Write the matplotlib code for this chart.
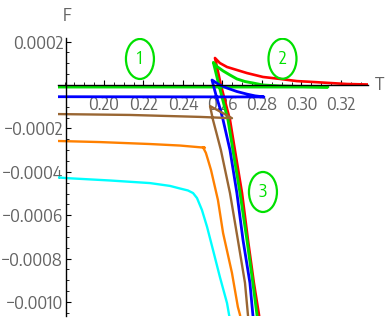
import matplotlib
matplotlib.use('Agg')
import matplotlib.pyplot as plt
from matplotlib import font_manager as fm
from matplotlib.textpath import TextPath
from matplotlib.patches import Ellipse
from matplotlib.ticker import FixedLocator, FixedFormatter, MultipleLocator

# ---- data (T, F) ----
red_T = [0.3400, 0.3337, 0.3230, 0.3144, 0.3058, 0.2977, 0.2891, 0.2805,
         0.2724, 0.2623, 0.2587, 0.2562, 0.2592, 0.2618, 0.2638, 0.2663, 0.2699, 0.2729,
         0.2759, 0.2785, 0.2800]
red_F = [0.000002, 0.0000023, 0.0000046, 0.0000092, 0.000014, 0.000018,
         0.000028, 0.000037, 0.000055, 0.000083, 0.000101, 0.0001244, 0.0, -0.000092,
         -0.000161, -0.000300, -0.000498, -0.000714, -0.000912, -0.00106, -0.001175]

green_T = [0.1767, 0.3134, 0.2992, 0.2891, 0.2805, 0.2754, 0.2714, 0.2673, 0.2638, 0.2603,
           0.2572, 0.2554, 0.2582, 0.2608, 0.2628, 0.2653, 0.2689, 0.2724, 0.2754, 0.2775,
           0.2790]
green_F = [-0.0000092, -0.0000092, -0.0000069, -0.0000046, 0.0, 0.0000092, 0.000016, 0.000028,
           0.000046, 0.000065, 0.000085, 0.000104, 0.0, -0.000092, -0.000161, -0.000300,
           -0.000498, -0.000714, -0.000912, -0.00106, -0.001175]

blue_T = [0.1767, 0.2810, 0.2765, 0.2724, 0.2673, 0.2623, 0.2582, 0.2547, 0.2567, 0.2587,
          0.2603, 0.2638, 0.2673, 0.2704, 0.2739, 0.2754, 0.2770]
blue_F = [-0.000054, -0.000055, -0.000050, -0.000042, -0.000030, -0.000014, 0.000002, 0.000023,
          -0.000046, -0.000106, -0.000161, -0.000300, -0.000498, -0.000714, -0.000912,
          -0.00106, -0.001175]

brown_T = [0.1767, 0.2132, 0.2486, 0.2648, 0.2597, 0.2537, 0.2552, 0.2572, 0.2592, 0.2638,
           0.2678, 0.2714, 0.2729, 0.2744]
brown_F = [-0.000134, -0.000138, -0.000147, -0.000153, -0.000127, -0.000097, -0.000161,
           -0.000230, -0.000300, -0.000498, -0.000714, -0.000912, -0.00106, -0.001175]

orange_T = [0.1767, 0.1980, 0.2233, 0.2385, 0.2511, 0.2501, 0.2516, 0.2527, 0.2542, 0.2577,
            0.2603, 0.2648, 0.2678, 0.2689, 0.2699]
orange_F = [-0.000258, -0.000263, -0.000272, -0.000279, -0.000289, -0.000286, -0.000313,
            -0.000346, -0.000392, -0.000530, -0.000682, -0.000866, -0.001023, -0.00106,
            -0.001152]

cyan_T = [0.1767, 0.1808, 0.2030, 0.2233, 0.2334, 0.2385, 0.2425, 0.2451, 0.2471, 0.2496,
          0.2522, 0.2552, 0.2587, 0.2623, 0.2638]
cyan_F = [-0.000426, -0.000429, -0.000440, -0.000452, -0.000465, -0.000477, -0.000486,
          -0.000498, -0.000521, -0.000576, -0.000654, -0.000760, -0.000885, -0.001005,
          -0.001083]

x_ticks = [0.20, 0.22, 0.24, 0.26, 0.28, 0.30, 0.32]
x_tick_labels = ['0.20', '0.22', '0.24', '0.26', '0.28', '0.30', '0.32']
y_ticks = [0.0002, -0.0002, -0.0004, -0.0006, -0.0008, -0.0010]
y_tick_labels = ['0.0002', '\u22120.0002', '\u22120.0004', '\u22120.0006', '\u22120.0008', '\u22120.0010']

region_labels = ['1', '2', '3']
region_T = [0.2182, 0.2904, 0.2805]
region_F = [0.000120, 0.000121, -0.000493]

# ---- font: pick the installed narrow sans whose digit shape is closest to the picture ----
available = set(f.name for f in fm.fontManager.ttflist)
prefs = ['Liberation Sans Narrow', 'Arial Narrow', 'Roboto Condensed', 'PT Sans Narrow',
         'Archivo Narrow', 'Fira Sans Condensed', 'IBM Plex Sans Condensed',
         'Barlow Semi Condensed', 'Asap Condensed', 'Encode Sans Condensed',
         'Open Sans Condensed', 'Liberation Sans']
TARGET_RATIO = 0.285      # digit height / width of "0.0002" in the picture
best, best_err, best_w = 'DejaVu Sans', 1e9, None
for name in prefs:
    if name not in available:
        continue
    try:
        prop = fm.FontProperties(family=name, weight='normal', style='normal')
        ext = TextPath((0, 0), '0.0002', size=100, prop=prop).get_extents()
        ratio = ext.height / ext.width
    except Exception:
        continue
    err = abs(ratio - TARGET_RATIO)
    if err < best_err:
        best, best_err, best_w = name, err, ext.width
plt.rcParams['font.family'] = [best, 'DejaVu Sans']
if best_w is None:
    best_w = TextPath((0, 0), '0.0002', size=100,
                      prop=fm.FontProperties(family='DejaVu Sans')).get_extents().width
FS = 54.0 * 72.0 / best_w     # ink width of "0.0002" = 54 px at 100 dpi

W, H = 388, 319
GREY = '#646464'
GREEN = '#00e000'

fig = plt.figure(figsize=(3.88, 3.19), dpi=100)
ax = fig.add_axes([58 / W, 3 / H, 310 / W, 278 / H])
ax.set_xlim(0.1767, 0.3337)
ax.set_ylim(-0.0010645, 0.0002166)

lw = 1.7
ax.plot(red_T, red_F, color='#ff0000', lw=lw + 0.2, solid_joinstyle='round')
ax.plot(green_T, green_F, color=GREEN, lw=lw + 0.4, solid_joinstyle='round')
ax.plot(blue_T, blue_F, color='#0000ff', lw=lw + 0.3, solid_joinstyle='round')
ax.plot(brown_T, brown_F, color='#996633', lw=lw, solid_joinstyle='round')
ax.plot(orange_T, orange_F, color='#ff8000', lw=lw, solid_joinstyle='round')
ax.plot(cyan_T, cyan_F, color='#00ffff', lw=lw, solid_joinstyle='round')

for s in ['top', 'right']:
    ax.spines[s].set_visible(False)
ax.spines['left'].set_position(('data', 0.181))
ax.spines['bottom'].set_position(('data', 0.0))
for s in ['left', 'bottom']:
    ax.spines[s].set_linewidth(1.0)
    ax.spines[s].set_color('black')
    ax.spines[s].set_zorder(5)

ax.xaxis.set_major_locator(FixedLocator(x_ticks))
ax.xaxis.set_major_formatter(FixedFormatter(x_tick_labels))
ax.xaxis.set_minor_locator(MultipleLocator(0.005))
ax.yaxis.set_major_locator(FixedLocator(y_ticks))
ax.yaxis.set_major_formatter(FixedFormatter(y_tick_labels))
ax.yaxis.set_minor_locator(MultipleLocator(0.00005))

ax.tick_params(which='major', direction='in', length=3.5, width=0.8, color='black',
               labelsize=FS, labelcolor=GREY)
ax.tick_params(which='minor', direction='in', length=2.0, width=0.6, color='black')
ax.tick_params(axis='x', which='major', pad=8.0)
ax.tick_params(axis='y', which='major', pad=2.5)

# keep the widest y label (with its minus sign) inside the picture
fig.canvas.draw()
rend = fig.canvas.get_renderer()
wmax = max(t.get_window_extent(rend).width for t in ax.get_yticklabels() if t.get_text())
if wmax > 62.0:
    FS = FS * 62.0 / wmax
    ax.tick_params(which='major', labelsize=FS)

# axis labels
fig.text(67 / W, 1 - 16 / H, 'F', ha='center', va='center', fontsize=FS, color=GREY)
fig.text(380 / W, 1 - 85 / H, 'T', ha='center', va='center', fontsize=FS, color=GREY)

# circled region numbers
ew = 28 / 1975.0
eh = 40 * 4.608e-6
for lab, t, f in zip(region_labels, region_T, region_F):
    ax.add_patch(Ellipse((t, f), ew, eh, fill=False, edgecolor=GREEN, lw=1.6, zorder=6))
    ax.text(t, f, lab, ha='center', va='center', fontsize=FS, color=GREEN, zorder=6)

fig.savefig('out.png', dpi=100)
